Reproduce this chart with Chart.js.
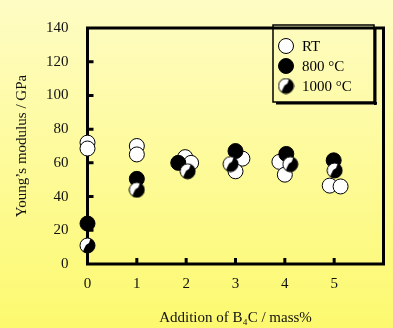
<!DOCTYPE html>
<html>
<head>
<meta charset="utf-8">
<script src="https://cdn.jsdelivr.net/npm/chart.js@4/dist/chart.umd.min.js"></script>
<style>
  html, body { margin: 0; padding: 0; }
  #wrap { width: 393px; height: 328px; }
</style>
</head>
<body>
<div id="wrap"><canvas id="myChart" width="393" height="328"></canvas></div>
<script>
// data (x = B4C addition in mass%, y = Young's modulus in GPa)
var seriesNames = ["RT", "800 °C", "1000 °C"];

var rtX = [0, 0, 1, 1, 1.98, 2.1, 3.14, 3.0, 3.89, 4.0, 4.91, 5.13];
var rtY = [72, 68.5, 70, 65, 63.4, 60, 62.5, 55, 60.6, 53, 46.5, 46];

var t800X = [0, 1, 1.84, 3.0, 4.03, 4.99];
var t800Y = [24, 50.5, 60, 67, 65.3, 61.5];

var t1000X = [0, 1, 2.03, 2.9, 4.11, 5.01];
var t1000Y = [11, 44, 55, 59.3, 59.2, 55.5];

var xTicks = [0, 1, 2, 3, 4, 5];
var yTicks = [0, 20, 40, 60, 80, 100, 120, 140];

var serif = "'Liberation Serif', 'Times New Roman', serif";

function toPoints(xs, ys) {
    var pts = [];
    for (var i = 0; i < xs.length; i++) pts.push({x: xs[i], y: ys[i]});
    return pts;
}

// half black / half white marker for 1000 °C
var halfDot = document.createElement('canvas');
halfDot.width = 17;
halfDot.height = 17;
(function () {
    var c = halfDot.getContext('2d');
    c.beginPath();
    c.arc(8.5, 8.5, 7.5, 0, Math.PI * 2);
    c.fillStyle = '#fff';
    c.fill();
    c.save();
    c.clip();
    c.beginPath();
    c.moveTo(12, 0);
    c.lineTo(10, 6);
    c.lineTo(7, 8);
    c.lineTo(5, 12);
    c.lineTo(3, 17);
    c.lineTo(17, 17);
    c.lineTo(17, 0);
    c.closePath();
    c.fillStyle = '#000';
    c.fill();
    c.restore();
    c.beginPath();
    c.arc(8.5, 8.5, 7.5, 0, Math.PI * 2);
    c.lineWidth = 1;
    c.strokeStyle = '#000';
    c.stroke();
})();

var markerFill = ['#ffffff', '#000000', '#ffffff'];
var markerStyle = ['circle', 'circle', halfDot];

// background, frame and inward ticks
var framePlugin = {
    id: 'frame',
    beforeDraw: function (chart) {
        var ctx = chart.ctx;
        var g = ctx.createLinearGradient(0, 0, 0, chart.height);
        g.addColorStop(0, '#fefcc4');
        g.addColorStop(1, '#fcf96f');
        ctx.save();
        ctx.fillStyle = g;
        ctx.fillRect(0, 0, chart.width, chart.height);
        ctx.restore();
    },
    beforeDatasetsDraw: function (chart) {
        var ctx = chart.ctx;
        var a = chart.chartArea;
        var xs = chart.scales.x, ys = chart.scales.y;
        ctx.save();
        ctx.strokeStyle = '#000';
        ctx.lineWidth = 3;
        ctx.lineJoin = 'miter';
        ctx.strokeRect(a.left, a.top, a.right - a.left, a.bottom - a.top);
        ctx.beginPath();
        xTicks.forEach(function (v) {
            if (v === 0) return;
            var px = xs.getPixelForValue(v);
            ctx.moveTo(px, a.bottom);
            ctx.lineTo(px, a.bottom - 6);
        });
        yTicks.forEach(function (v) {
            if (v === 0 || v === 140) return;
            var py = ys.getPixelForValue(v);
            ctx.moveTo(a.left, py);
            ctx.lineTo(a.left + 6, py);
        });
        ctx.stroke();
        ctx.restore();
    },
    afterDraw: function (chart) {
        // legend box in the top right
        var ctx = chart.ctx;
        var bx = 273, by = 25, bw = 101, bh = 77;
        ctx.save();
        ctx.fillStyle = '#000';
        ctx.fillRect(bx + 3, by + bh, bw, 2.5);
        ctx.fillRect(bx + bw, by + 3, 2.5, bh);
        ctx.strokeStyle = '#000';
        ctx.lineWidth = 1.5;
        ctx.strokeRect(bx, by, bw, bh);
        ctx.font = '15px ' + serif;
        ctx.textBaseline = 'middle';
        ctx.textAlign = 'left';
        for (var i = 0; i < seriesNames.length; i++) {
            var y = by + 21 + i * 20;
            ctx.fillStyle = markerFill[i];
            ctx.strokeStyle = '#000';
            ctx.lineWidth = 1;
            Chart.helpers.drawPoint(ctx, {pointStyle: markerStyle[i], radius: 7.5, rotation: 0, borderWidth: 1}, bx + 13, y);
            ctx.fillStyle = '#000';
            ctx.fillText(seriesNames[i], bx + 29, y + 1);
        }
        ctx.restore();
    }
};

var ctx = document.getElementById("myChart").getContext('2d');
var chart = new Chart(ctx, {
    type: 'scatter',
    data: {
        datasets: [{
            label: seriesNames[0],
            data: toPoints(rtX, rtY),
            backgroundColor: markerFill[0],
            borderColor: '#000',
            borderWidth: 1,
            pointStyle: markerStyle[0],
            pointRadius: 7.5,
            order: 3,
            clip: false
        }, {
            label: seriesNames[1],
            data: toPoints(t800X, t800Y),
            backgroundColor: markerFill[1],
            borderColor: '#000',
            borderWidth: 1,
            pointStyle: markerStyle[1],
            pointRadius: 7.5,
            order: 2,
            clip: false
        }, {
            label: seriesNames[2],
            data: toPoints(t1000X, t1000Y),
            backgroundColor: markerFill[2],
            borderColor: '#000',
            borderWidth: 1,
            pointStyle: markerStyle[2],
            pointRadius: 7.5,
            order: 1,
            clip: false
        }]
    },
    options: {
        responsive: false,
        animation: false,
        events: [],
        layout: { padding: { top: 16, right: 9.5, left: 0, bottom: 0 } },
        plugins: {
            legend: { display: false },
            tooltip: { enabled: false }
        },
        scales: {
            x: {
                type: 'linear',
                min: 0,
                max: 6,
                afterFit: function (s) { s.height = 64; },
                afterBuildTicks: function (s) {
                    s.ticks = xTicks.map(function (v) { return {value: v}; });
                },
                grid: { display: false, drawTicks: false },
                border: { display: false },
                ticks: {
                    padding: 11,
                    color: '#111',
                    font: { family: serif, size: 15 }
                },
                title: {
                    display: true,
                    text: 'Addition of B\u2084C / mass%',
                    color: '#111',
                    font: { family: serif, size: 15 },
                    padding: { top: 0, bottom: 1 }
                }
            },
            y: {
                min: 0,
                max: 140,
                afterFit: function (s) { s.width = 87.5; },
                afterBuildTicks: function (s) {
                    s.ticks = yTicks.map(function (v) { return {value: v}; });
                },
                grid: { display: false, drawTicks: false },
                border: { display: false },
                ticks: {
                    padding: 19,
                    color: '#111',
                    font: { family: serif, size: 15 }
                },
                title: {
                    display: true,
                    text: 'Young\u2019s modulus / GPa',
                    color: '#111',
                    font: { family: serif, size: 15 },
                    padding: { top: 13, bottom: 0 }
                }
            }
        }
    },
    plugins: [framePlugin]
});
</script>
</body>
</html>
